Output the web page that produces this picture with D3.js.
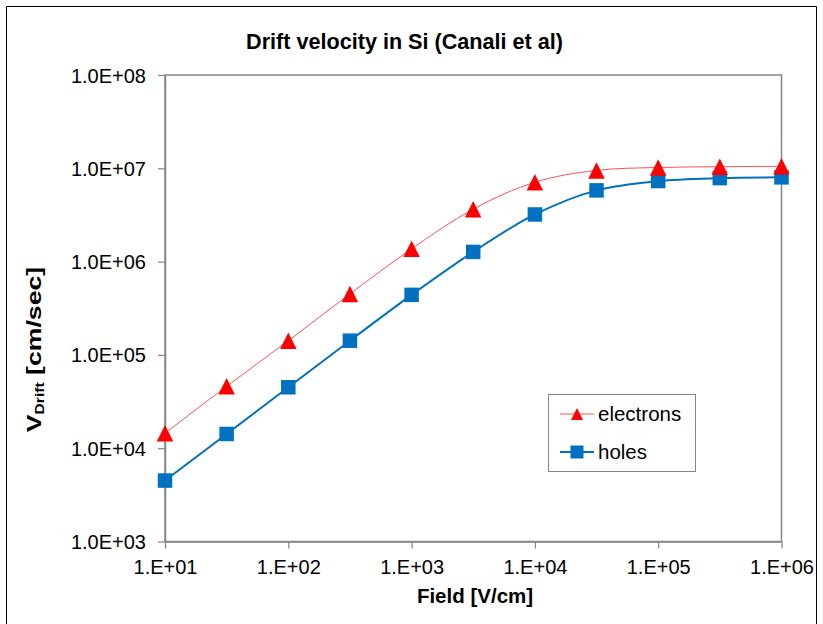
<!DOCTYPE html>
<html>
<head>
<meta charset="utf-8">
<script src="https://cdn.jsdelivr.net/npm/d3@7"></script>
<style>
  html, body { margin: 0; padding: 0; background: #fff; }
  svg { display: block; font-family: "Liberation Sans", Arial, sans-serif; }
</style>
</head>
<body>
<svg id="chart" width="823" height="624"></svg>
<script>
// Drift velocity of carriers in silicon vs. electric field (Canali et al.)
const fieldValues = [1e1, 3.16e1, 1e2, 3.16e2, 1e3, 3.16e3, 1e4, 3.16e4, 1e5, 3.16e5, 1e6];
const electronVelocity = [1.45e4, 4.6e4, 1.42e5, 4.5e5, 1.37e6, 3.65e6, 7.1e6, 9.5e6, 1.02e7, 1.04e7, 1.05e7];
const holeVelocity = [4.5e3, 1.42e4, 4.5e4, 1.42e5, 4.4e5, 1.27e6, 3.2e6, 5.8e6, 7.3e6, 7.85e6, 8.0e6];
const xTickValues = [1e1, 1e2, 1e3, 1e4, 1e5, 1e6];
const yTickValues = [1e3, 1e4, 1e5, 1e6, 1e7, 1e8];
const seriesNames = ["electrons", "holes"];

const svg = d3.select("#chart");
const W = 823, H = 624;
const plot = { left: 165, top: 75, right: 781.5, bottom: 541.5 };
const axisGray = "#868686";

// chart area frame
svg.append("path")
  .attr("d", `M6.5,${H + 5} V6.5 H816.5 V${H + 5}`)
  .attr("fill", "none").attr("stroke", "#000").attr("stroke-width", 1);

const x = d3.scaleLog().domain([1e1, 1e6]).range([plot.left, plot.right]);
const y = d3.scaleLog().domain([1e3, 1e8]).range([plot.bottom, plot.top]);

const exp2 = v => {
  const e = Math.round(Math.log10(v));
  return (e < 0 ? "-" : "+") + String(Math.abs(e)).padStart(2, "0");
};

// plot area border
svg.append("rect")
  .attr("x", plot.left).attr("y", plot.top)
  .attr("width", plot.right - plot.left).attr("height", plot.bottom - plot.top)
  .attr("fill", "none").attr("stroke", axisGray).attr("stroke-width", 1.5);

// axes
const xAxis = svg.append("g")
  .attr("transform", `translate(0,${plot.bottom})`)
  .call(d3.axisBottom(x).tickValues(xTickValues).tickSize(7).tickSizeOuter(0)
    .tickFormat(v => "1.E" + exp2(v)));
const yAxis = svg.append("g")
  .attr("transform", `translate(${plot.left},0)`)
  .call(d3.axisLeft(y).tickValues(yTickValues).tickSize(7).tickSizeOuter(0)
    .tickFormat(v => "1.0E" + exp2(v)));

[xAxis, yAxis].forEach(g => {
  g.select(".domain").attr("stroke", axisGray).attr("stroke-width", 1.5);
  g.selectAll(".tick line").attr("stroke", axisGray).attr("stroke-width", 1.2);
  g.selectAll(".tick text")
    .attr("fill", "#000")
    .style("font-family", "'Liberation Sans', Arial, sans-serif")
    .style("font-size", "20px");
});
xAxis.selectAll(".tick text").attr("dy", null).attr("y", 32);
yAxis.selectAll(".tick text").attr("x", -19).attr("dy", "0.35em");

// title
svg.append("text")
  .attr("x", 404.5).attr("y", 49)
  .attr("text-anchor", "middle")
  .style("font-size", "21.6px").style("font-weight", "bold")
  .text("Drift velocity in Si (Canali et al)");

// axis titles
svg.append("text")
  .attr("x", 475).attr("y", 603)
  .attr("text-anchor", "middle")
  .style("font-size", "20.5px").style("font-weight", "bold")
  .text("Field [V/cm]");

const yTitle = svg.append("text")
  .attr("transform", "translate(41,349.5) rotate(-90) scale(1.3,1)")
  .attr("text-anchor", "middle")
  .style("font-size", "20.5px").style("font-weight", "bold");
yTitle.append("tspan").text("V");
yTitle.append("tspan").attr("dy", 3).style("font-size", "12px").text("Drift");
yTitle.append("tspan").attr("dy", -3).text(" [cm/sec]");

// series
const electrons = fieldValues.map((f, i) => ({ f, v: electronVelocity[i] }));
const holes = fieldValues.map((f, i) => ({ f, v: holeVelocity[i] }));

const line = d3.line()
  .x(d => x(d.f)).y(d => y(d.v))
  .curve(d3.curveCatmullRom.alpha(0.5));

const triPath = (w, h) => `M0,${-h / 2}L${w / 2},${h / 2}L${-w / 2},${h / 2}Z`;
const sqPath = s => `M${-s / 2},${-s / 2}h${s}v${s}h${-s}Z`;

const red = "#FF0000", blue = "#0070C0";

svg.append("path").datum(holes)
  .attr("d", line).attr("fill", "none")
  .attr("stroke", blue).attr("stroke-width", 2);
svg.append("path").datum(electrons)
  .attr("d", line).attr("fill", "none")
  .attr("stroke", "#FF5050").attr("stroke-width", 1);

svg.append("g").selectAll("path").data(holes).join("path")
  .attr("transform", d => `translate(${x(d.f)},${y(d.v)})`)
  .attr("d", sqPath(14.5)).attr("fill", blue);
svg.append("g").selectAll("path").data(electrons).join("path")
  .attr("transform", d => `translate(${x(d.f)},${y(d.v)})`)
  .attr("d", triPath(16.5, 16.5)).attr("fill", red);

// legend
const legend = svg.append("g");
legend.append("rect")
  .attr("x", 548.5).attr("y", 394.5).attr("width", 147).attr("height", 77)
  .attr("fill", "#fff").attr("stroke", axisGray).attr("stroke-width", 1);

const legendItems = [
  { name: seriesNames[0], color: red, lineColor: "#FF5050", lw: 1, shape: triPath(12, 12), cy: 414 },
  { name: seriesNames[1], color: blue, lineColor: blue, lw: 2, shape: sqPath(13), cy: 452 }
];
legendItems.forEach(it => {
  legend.append("line")
    .attr("x1", 560).attr("x2", 594).attr("y1", it.cy).attr("y2", it.cy)
    .attr("stroke", it.lineColor).attr("stroke-width", it.lw);
  legend.append("path")
    .attr("transform", `translate(577,${it.cy})`)
    .attr("d", it.shape).attr("fill", it.color);
  legend.append("text")
    .attr("x", 598).attr("y", it.cy).attr("dy", "0.35em")
    .style("font-size", "20.5px")
    .text(it.name);
});
</script>
</body>
</html>
